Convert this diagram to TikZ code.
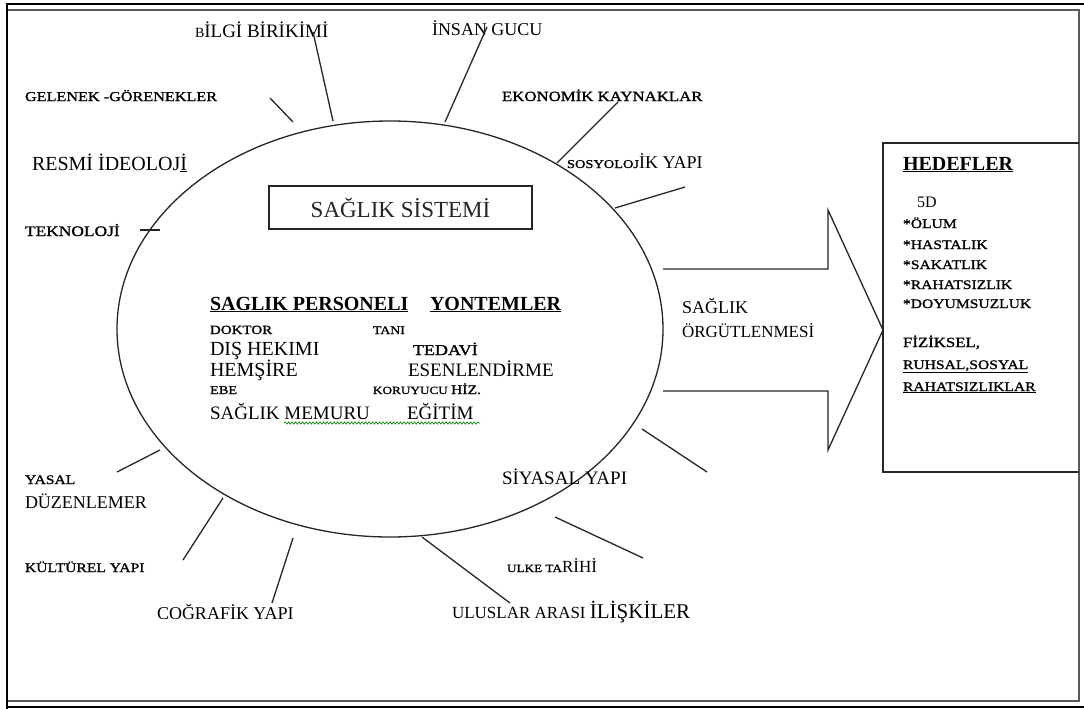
\documentclass[tikz,border=0pt]{standalone}
\usepackage{fontspec}
\setmainfont{Liberation Serif}
\newfontfamily\wf[FakeStretch=1.2,FakeBold=1.2]{Liberation Serif}
\newcommand\fsz[1]{\fontsize{#1}{#1}\selectfont}
\usetikzlibrary{shapes.geometric,decorations.pathmorphing}
\tikzset{
  lbl/.style={anchor=base west, inner sep=0pt, outer sep=0pt},
  tick/.style={line width=1.3pt, black!85},
  boxline/.style={line width=1.4pt, black!85},
  wavy/.style={green!50!black, line width=0.6pt, decorate, decoration={snake, amplitude=1.2pt, segment length=3.5pt}}
}
\begin{document}
\begin{tikzpicture}[x=1pt,y=-1pt]
\useasboundingbox (0,0) rectangle (1084,709);
\fill[white] (0,0) rectangle (1084,709);
% frame
\coordinate (f1) at (6,4); \coordinate (f2) at (1084,4);
\coordinate (f3) at (7,709); \coordinate (f4) at (7,4);
\coordinate (f5) at (6,707); \coordinate (f6) at (1084,707);
\draw[line width=2.2pt] (f1) -- (f2);
\draw[line width=2.2pt] (f4) -- (f3);
\draw[line width=2pt] (f5) -- (f6);
\coordinate (g1) at (8,10); \coordinate (g2) at (1079,10);
\coordinate (g3) at (1079,701); \coordinate (g4) at (8,701);
\draw[line width=1.6pt, black!65] (g1) -- (g2) -- (g3) -- (g4);

% ellipse
\node[draw, ellipse, line width=1.3pt, black!85, minimum width=546pt, minimum height=416pt, inner sep=0pt] (E) at (390,329) {};

% system box
\node[draw, boxline, minimum width=263pt, minimum height=43pt, inner sep=0pt] (sys) at (400.5,207.5) {\fsz{23}SAĞLIK SİSTEMİ};

% arrow
\coordinate (a1) at (663,269); \coordinate (a2) at (828,269);
\coordinate (a3) at (828,210); \coordinate (a4) at (883,330);
\coordinate (a5) at (828,450); \coordinate (a6) at (828,391);
\coordinate (a7) at (663,391);
\draw[boxline, line width=1.3pt, line join=miter] (a1) -- (a2) -- (a3) -- (a4) -- (a5) -- (a6) -- (a7);
\node[lbl] (org1) at (682,313) {\fsz{18}SAĞLIK};
\node[lbl] (org2) at (682,337) {\fsz{17}ÖRGÜTLENMESİ};

% goals box
\coordinate (h1) at (883,143); \coordinate (h2) at (1079,143);
\coordinate (h3) at (1079,472); \coordinate (h4) at (883,472);
\draw[boxline] (h2) -- (h1) -- (h4) -- (h3);
\node[lbl] (hed) at (903,170) {\fsz{20}\bfseries\underline{HEDEFLER}};
\node[lbl] (d5) at (917,207) {\fsz{16}5D};
\node[lbl] (g1t) at (903,228) {\wf\fsz{13}*ÖLUM};
\node[lbl] (g2t) at (903,249) {\wf\fsz{13}*HASTALIK};
\node[lbl] (g3t) at (903,269) {\wf\fsz{13}*SAKATLIK};
\node[lbl] (g4t) at (903,289) {\wf\fsz{13}*RAHATSIZLIK};
\node[lbl] (g5t) at (903,308) {\wf\fsz{13}*DOYUMSUZLUK};
\node[lbl] (fiz) at (903,347) {\wf\fsz{14}FİZİKSEL,};
\node[lbl] (ruh) at (903,369) {\wf\fsz{13}\underline{RUHSAL,SOSYAL}};
\node[lbl] (rah) at (903,391) {\wf\fsz{13}\underline{RAHATSIZLIKLAR}};

% centre block
\node[lbl] (sp) at (210,310) {\fsz{20}\bfseries\underline{SAGLIK PERSONELI}};
\node[lbl] (yon) at (430,310) {\fsz{20}\bfseries\underline{YONTEMLER}};
\node[lbl] (dok) at (210,334) {\wf\fsz{12.5}DOKTOR};
\node[lbl] (tani) at (373,334) {\wf\fsz{11.5}TANI};
\node[lbl] (dis) at (210,355) {\fsz{20}DIŞ HEKIMI};
\node[lbl] (ted) at (413,355) {\wf\fsz{15}TEDAVİ};
\node[lbl] (hem) at (210,376) {\fsz{20}HEMŞİRE};
\node[lbl] (ese) at (408,376) {\fsz{19}ESENLENDİRME};
\node[lbl] (ebe) at (210,394) {\wf\fsz{12}EBE};
\node[lbl] (kor) at (373,394) {\wf\fsz{11}KORUYUCU {\fsz{13}HİZ.}};
\node[lbl] (mem) at (210,419) {\fsz{19}SAĞLIK MEMURU};
\node[lbl] (egi) at (407,419) {\fsz{19}EĞİTİM};
\coordinate (w1) at (284,423); \coordinate (w2) at (480,423);
\draw[wavy] (w1) -- (w2);

% outer labels
\node[lbl] (bilgi) at (195,38) {\fsz{14}B\fsz{19}İLGİ BİRİKİMİ};
\node[lbl] (insan) at (432,36) {\fsz{18}İNSAN GUCU};
\node[lbl] (eko) at (502,101) {\wf\fsz{14}EKONOMİK KAYNAKLAR};
\node[lbl] (sos) at (567,168) {\wf\fsz{12}SOSYOLOJ\fontspec{Liberation Serif}\fsz{18}İK YAPI};
\node[lbl] (gel) at (25,101) {\wf\fsz{13.5}GELENEK -GÖRENEKLER};
\node[lbl] (res) at (32,170) {\fsz{20}RESMİ İDEOLOJ\underline{İ}};
\node[lbl] (tek) at (25,236) {\wf\fsz{14.5}TEKNOLOJİ};
\node[lbl] (yas) at (25,484) {\wf\fsz{13}YASAL};
\node[lbl] (duz) at (25,508) {\fsz{18}DÜZENLEMER};
\node[lbl] (kul) at (25,572) {\wf\fsz{13}KÜLTÜREL YAPI};
\node[lbl] (cog) at (157,619) {\fsz{18}COĞRAFİK YAPI};
\node[lbl] (siy) at (502,484) {\fsz{19}SİYASAL YAPI};
\node[lbl] (ulk) at (507,572) {\wf\fsz{11}ULKE TA\fontspec{Liberation Serif}\fsz{17}RİHİ};
\node[lbl] (ulu) at (452,618) {\fsz{17}ULUSLAR ARASI \fsz{21}İLİŞKİLER};

% ticks
\coordinate (t1a) at (313,32);  \coordinate (t1b) at (333,121);
\coordinate (t2a) at (487,27);  \coordinate (t2b) at (445,122);
\coordinate (t3a) at (618,102); \coordinate (t3b) at (557,163);
\coordinate (t4a) at (615,208); \coordinate (t4b) at (685,187);
\coordinate (t5a) at (270,98);  \coordinate (t5b) at (293,122);
\coordinate (t6a) at (140,230); \coordinate (t6b) at (160,230);
\coordinate (t7a) at (117,472); \coordinate (t7b) at (160,450);
\coordinate (t8a) at (183,560); \coordinate (t8b) at (223,498);
\coordinate (t9a) at (272,603); \coordinate (t9b) at (293,538);
\coordinate (t10a) at (642,429); \coordinate (t10b) at (707,472);
\coordinate (t11a) at (555,517); \coordinate (t11b) at (643,558);
\coordinate (t12a) at (422,537); \coordinate (t12b) at (510,603);
\foreach \i in {1,...,12} {\draw[tick] (t\i a) -- (t\i b);}
\end{tikzpicture}
\end{document}
